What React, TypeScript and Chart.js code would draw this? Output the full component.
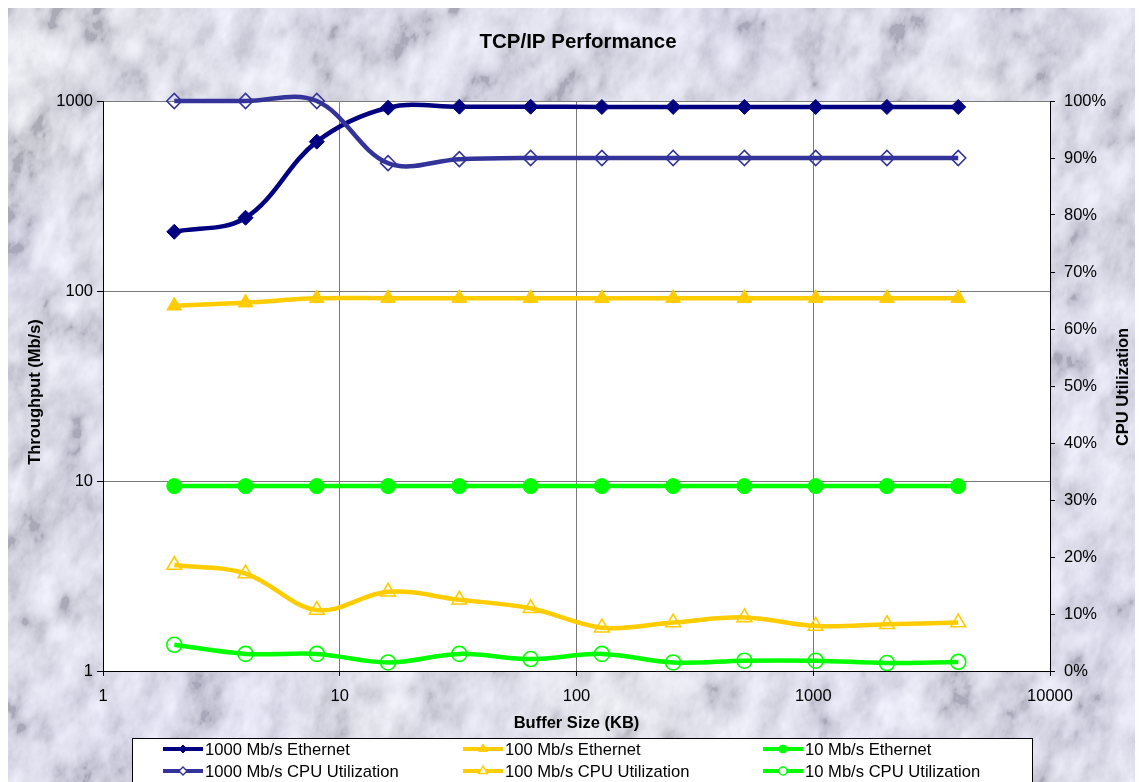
import React, { useEffect, useRef } from 'react';
import { Chart, registerables } from 'chart.js';

Chart.register(...registerables);

// ---- data ----
const bufferSizesKB = [2, 4, 8, 16, 32, 64, 128, 256, 512, 1024, 2048, 4096];
const gigabitThroughput = [205, 243, 611, 922, 933, 933, 930, 931, 931, 930, 930, 930];
const fastThroughput = [83.6, 86.8, 91.5, 91.7, 91.7, 91.7, 91.5, 91.7, 91.7, 91.7, 91.7, 91.7];
const tenThroughput = [9.4, 9.4, 9.4, 9.4, 9.4, 9.4, 9.4, 9.4, 9.4, 9.4, 9.4, 9.4];
const gigabitCpu = [100, 100, 100, 89.1, 89.8, 90, 90, 90, 90, 90, 90, 90];
const fastCpu = [18.6, 17.1, 10.7, 13.9, 12.5, 11.0, 7.6, 8.5, 9.4, 7.9, 8.2, 8.5];
const tenCpu = [4.6, 3.0, 3.0, 1.5, 3.0, 2.1, 3.0, 1.5, 1.8, 1.8, 1.4, 1.6];

const bufferTicks = [1, 10, 100, 1000, 10000];
const throughputTicks = [1, 10, 100, 1000];

const seriesLabels = [
  '1000 Mb/s Ethernet',
  '100 Mb/s Ethernet',
  '10 Mb/s Ethernet',
  '1000 Mb/s CPU Utilization',
  '100 Mb/s CPU Utilization',
  '10 Mb/s CPU Utilization',
];

const chartTitle = 'TCP/IP Performance';
const xTitle = 'Buffer Size (KB)';
const yTitle = 'Throughput (Mb/s)';
const y2Title = 'CPU Utilization';

// ---- styling ----
const W = 1135;
const H = 774;
const FONT = "'Liberation Sans', Arial, Helvetica, sans-serif";

const NAVY = '#000080';
const INDIGO = '#333399';
const GOLD = '#FFCC00';
const LIME = '#00FF00';

type Style = 'rectRot' | 'triangle' | 'circle';

// pale grey marble backdrop built from smooth value noise
function buildMarble(w: number, h: number): HTMLCanvasElement {
  const c = document.createElement('canvas');
  c.width = w;
  c.height = h;
  const ctx = c.getContext('2d')!;
  const img = ctx.createImageData(w, h);
  const hash = (ix: number, iy: number) => {
    let n = (Math.imul(ix, 374761393) + Math.imul(iy, 668265263)) | 0;
    n = Math.imul(n ^ (n >>> 13), 1274126177);
    n ^= n >>> 16;
    return (n >>> 0) / 4294967296;
  };
  const noise = (x: number, y: number) => {
    const ix = Math.floor(x);
    const iy = Math.floor(y);
    const fx = x - ix;
    const fy = y - iy;
    const sx = fx * fx * (3 - 2 * fx);
    const sy = fy * fy * (3 - 2 * fy);
    const a = hash(ix, iy);
    const b = hash(ix + 1, iy);
    const c2 = hash(ix, iy + 1);
    const d = hash(ix + 1, iy + 1);
    return a + (b - a) * sx + (c2 - a) * sy + (a - b - c2 + d) * sx * sy;
  };
  const data = img.data;
  for (let y = 0; y < h; y++) {
    for (let x = 0; x < w; x++) {
      const u = x * 0.95 + y * 0.3;
      const v = -x * 0.3 + y * 1.0;
      let f = 0;
      let amp = 0.5;
      let freq = 1 / 34;
      for (let o = 0; o < 4; o++) {
        f += amp * noise(u * freq * 1.6 + o * 17.3, v * freq + o * 31.7);
        amp *= 0.5;
        freq *= 2.2;
      }
      let t = (f - 0.2) / 0.6;
      t = t < 0 ? 0 : t > 1 ? 1 : t;
      const L = Math.pow(t, 0.45);
      const tint = noise(x / 120 + 50, y / 120 + 90);
      const i = (y * w + x) * 4;
      data[i] = 172 + 72 * L - 5 * tint;
      data[i + 1] = 172 + 72 * L - 5 * tint;
      data[i + 2] = 182 + 68 * L + 4 * tint;
      data[i + 3] = 255;
    }
  }
  ctx.putImageData(img, 0, 0);
  return c;
}

function drawMarker(
  ctx: CanvasRenderingContext2D,
  style: Style,
  x: number,
  y: number,
  r: number,
  color: string,
  filled: boolean
) {
  ctx.beginPath();
  if (style === 'rectRot') {
    ctx.moveTo(x, y - r);
    ctx.lineTo(x + r, y);
    ctx.lineTo(x, y + r);
    ctx.lineTo(x - r, y);
    ctx.closePath();
  } else if (style === 'triangle') {
    ctx.moveTo(x, y - r);
    ctx.lineTo(x + r * 0.866, y + r * 0.5);
    ctx.lineTo(x - r * 0.866, y + r * 0.5);
    ctx.closePath();
  } else {
    ctx.arc(x, y, r, 0, Math.PI * 2);
  }
  ctx.fillStyle = filled ? color : '#ffffff';
  ctx.fill();
  ctx.lineWidth = filled ? 1 : 1.4;
  ctx.strokeStyle = color;
  ctx.stroke();
}

function series(
  label: string,
  values: number[],
  axis: string,
  color: string,
  style: Style,
  radius: number,
  filled: boolean,
  order: number
) {
  return {
    label,
    data: bufferSizesKB.map((x, i) => ({ x, y: values[i] })),
    yAxisID: axis,
    borderColor: color,
    backgroundColor: color,
    borderWidth: 4.5,
    tension: 0.36,
    fill: false,
    pointStyle: style,
    pointRadius: radius,
    pointHoverRadius: radius,
    pointBackgroundColor: filled ? color : 'rgba(255,255,255,0)',
    pointBorderColor: color,
    pointBorderWidth: filled ? 1 : 1.6,
    clip: 16,
    order,
    filledMarker: filled,
  };
}

export default function App() {
  const ref = useRef<HTMLCanvasElement>(null);

  useEffect(() => {
    document.documentElement.style.overflow = 'hidden';
    document.body.style.overflow = 'hidden';
    const canvas = ref.current;
    if (!canvas) return;
    const marble = buildMarble(W, H);

    const datasets = [
      series(seriesLabels[0], gigabitThroughput, 'y', NAVY, 'rectRot', 7.5, true, 1),
      series(seriesLabels[1], fastThroughput, 'y', GOLD, 'triangle', 8.5, true, 1),
      series(seriesLabels[2], tenThroughput, 'y', LIME, 'circle', 7.5, true, 1),
      series(seriesLabels[3], gigabitCpu, 'y2', INDIGO, 'rectRot', 7.5, false, 0),
      series(seriesLabels[4], fastCpu, 'y2', GOLD, 'triangle', 8.5, false, 0),
      series(seriesLabels[5], tenCpu, 'y2', LIME, 'circle', 7.5, false, 0),
    ];

    const decor = {
      id: 'decor',
      beforeDraw(chart: any) {
        const { ctx, chartArea: a } = chart;
        ctx.save();
        ctx.drawImage(marble, 0, 0);
        ctx.fillStyle = '#ffffff';
        ctx.fillRect(a.left, a.top, a.right - a.left, a.bottom - a.top);
        ctx.restore();
      },
      afterDraw(chart: any) {
        const { ctx, chartArea: a } = chart;
        ctx.save();
        ctx.fillStyle = '#000';
        ctx.textAlign = 'center';
        ctx.textBaseline = 'middle';

        // chart title
        ctx.font = `bold 20.5px ${FONT}`;
        ctx.fillText(chartTitle, 570, 34);

        // axis titles
        ctx.font = `bold 16.5px ${FONT}`;
        ctx.fillText(xTitle, (a.left + a.right) / 2, 715);
        ctx.save();
        ctx.translate(27, 384);
        ctx.rotate(-Math.PI / 2);
        ctx.fillText(yTitle, 0, 0);
        ctx.restore();
        ctx.save();
        ctx.translate(1115, 379);
        ctx.rotate(-Math.PI / 2);
        ctx.fillText(y2Title, 0, 0);
        ctx.restore();

        // legend box
        ctx.fillStyle = '#ffffff';
        ctx.fillRect(124, 730, 900, 60);
        ctx.strokeStyle = '#000';
        ctx.lineWidth = 1;
        ctx.strokeRect(124.5, 730.5, 900, 60);

        ctx.font = `16.6px ${FONT}`;
        ctx.textAlign = 'left';
        chart.data.datasets.forEach((ds: any, i: number) => {
          const col = i % 3;
          const row = Math.floor(i / 3);
          const x0 = 155 + col * 300;
          const y = 741 + row * 22;
          ctx.beginPath();
          ctx.moveTo(x0, y);
          ctx.lineTo(x0 + 40, y);
          ctx.strokeStyle = ds.borderColor;
          ctx.lineWidth = 4;
          ctx.stroke();
          drawMarker(ctx, ds.pointStyle, x0 + 20, y, ds.pointStyle === 'triangle' ? 5 : 4, ds.borderColor, ds.filledMarker);
          ctx.fillStyle = '#000';
          ctx.fillText(ds.label, x0 + 42, y + 1);
        });
        ctx.restore();
      },
    };

    const tickFont = { family: FONT, size: 16.5 };

    const chart = new Chart(canvas, {
      type: 'line',
      data: { datasets: datasets as any },
      options: {
        animation: false,
        responsive: true,
        maintainAspectRatio: false,
        events: [],
        layout: { padding: { top: 93, left: 0, right: 0, bottom: 0 } },
        elements: { line: { capBezierPoints: false } as any },
        plugins: {
          legend: { display: false },
          tooltip: { enabled: false },
          title: { display: false },
        },
        scales: {
          x: {
            type: 'logarithmic',
            position: 'bottom',
            min: 1,
            max: 10000,
            afterBuildTicks: (s: any) => {
              s.ticks = bufferTicks.map((v) => ({ value: v }));
            },
            afterFit: (s: any) => {
              s.height = 111;
            },
            ticks: {
              callback: (v: any) => String(v),
              color: '#000',
              font: tickFont,
              padding: 11,
              autoSkip: false,
              maxRotation: 0,
            },
            grid: { color: '#7a7a7a', lineWidth: 1, tickLength: 5, tickColor: '#000' },
            border: { color: '#000', width: 1 },
          },
          y: {
            type: 'logarithmic',
            position: 'left',
            min: 1,
            max: 1000,
            afterBuildTicks: (s: any) => {
              s.ticks = throughputTicks.map((v) => ({ value: v }));
            },
            afterFit: (s: any) => {
              s.width = 95;
            },
            ticks: {
              callback: (v: any) => String(v),
              color: '#000',
              font: tickFont,
              padding: 4,
              autoSkip: false,
            },
            grid: { color: '#7a7a7a', lineWidth: 1, tickLength: 6, tickColor: '#000' },
            border: { color: '#000', width: 1 },
          },
          y2: {
            type: 'linear',
            position: 'right',
            min: 0,
            max: 100,
            afterFit: (s: any) => {
              s.width = 93;
            },
            ticks: {
              stepSize: 10,
              callback: (v: any) => `${v}%`,
              color: '#000',
              font: tickFont,
              padding: 9,
              autoSkip: false,
            },
            grid: { drawOnChartArea: false, color: '#000', tickLength: 5, tickColor: '#000' },
            border: { color: '#000', width: 1 },
          },
        },
      },
      plugins: [decor],
    });

    return () => chart.destroy();
  }, []);

  return (
    <div style={{ position: 'relative', width: W, height: H }}>
      <canvas ref={ref} />
    </div>
  );
}
